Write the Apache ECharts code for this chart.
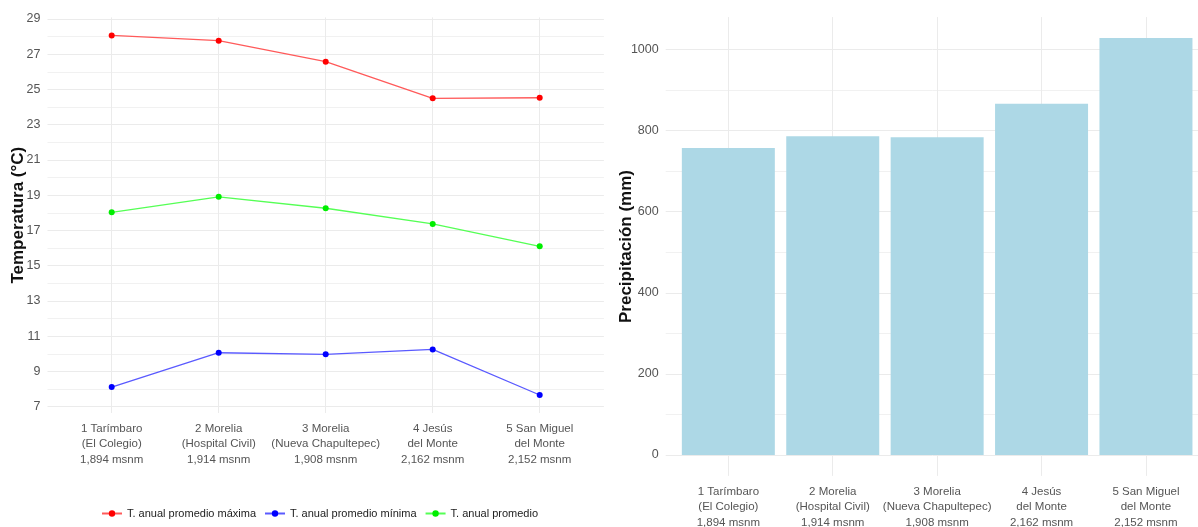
<!DOCTYPE html>
<html>
<head>
<meta charset="utf-8">
<script src="https://cdn.jsdelivr.net/npm/echarts@6/dist/echarts.min.js"></script>
<style>
html,body{margin:0;padding:0;background:#fff;}
#c{width:1198px;height:527px;}
</style>
</head>
<body>
<div id="c"></div>
<script>
// ---- data ----
var stations = [
  '1 Tarímbaro\n(El Colegio)\n1,894 msnm',
  '2 Morelia\n(Hospital Civil)\n1,914 msnm',
  '3 Morelia\n(Nueva Chapultepec)\n1,908 msnm',
  '4 Jesús\ndel Monte\n2,162 msnm',
  '5 San Miguel\ndel Monte\n2,152 msnm'
];
var tMax = [28.07, 27.77, 26.58, 24.50, 24.53];
var tMin = [8.11, 10.06, 9.97, 10.25, 7.66];
var tMean = [18.03, 18.91, 18.26, 17.37, 16.10];
var precip = [757, 786, 783, 866, 1028];
var seriesNames = ['T. anual promedio máxima', 'T. anual promedio mínima', 'T. anual promedio'];

// ---- helpers ----
function pts(arr){ return arr.map(function(v,i){ return [i+1, v]; }); }
var allT = tMax.concat(tMin, tMean);
var tLo = Math.min.apply(null, allT), tHi = Math.max.apply(null, allT);
var tPad = 0.05*(tHi - tLo);
var pHi = Math.max.apply(null, precip), pPad = 0.05*pHi;

var tickFont = "'Liberation Sans',Arial,sans-serif";
var gridColor = '#ebebeb';
var minorColor = '#f1f1f1';
function catLabel(v){
  if (Math.abs(v - Math.round(v)) < 1e-6 && stations[Math.round(v)-1]) return stations[Math.round(v)-1];
  return '';
}
function plain(v){ return String(v); }
function xLabelStyle(margin){
  return {color:'#555', fontFamily:tickFont, fontSize:11.5, lineHeight:15.5, margin:margin,
    formatter:catLabel, showMinLabel:false, showMaxLabel:false, hideOverlap:false};
}
var titleStyle = {color:'#111', fontFamily:"'Liberation Sans',Arial,sans-serif", fontWeight:'bold', fontSize:17};

var chart = echarts.init(document.getElementById('c'), null, {renderer:'canvas'});
var option = {
  animation:false,
  backgroundColor:'#fff',
  grid:[
    {left:47.5, top:17.4, width:556.4, bottom:114, outerBoundsMode:'none', containLabel:false},
    {left:47.5, top:19, width:556.4, bottom:120.3, outerBoundsMode:'none', containLabel:false},
    {left:665.7, top:17.1, width:542.9, bottom:51.1, outerBoundsMode:'none', containLabel:false}
  ],
  legend:{
    left:96, top:503, itemWidth:20, itemHeight:8, itemGap:8,
    textStyle:{color:'#222', fontFamily:tickFont, fontSize:11},
    data:seriesNames
  },
  xAxis:[
    {gridIndex:0, type:'value', min:0.4, max:5.6, splitNumber:5,
     axisLine:{show:false}, axisTick:{show:false},
     axisLabel:xLabelStyle(8),
     splitLine:{show:true, showMinLine:false, showMaxLine:false, lineStyle:{color:gridColor, width:1}}},
    {gridIndex:1, type:'value', min:0.4, max:5.6, show:false},
    {gridIndex:2, type:'value', min:0.4, max:5.6, splitNumber:5,
     axisLine:{show:false}, axisTick:{show:false},
     axisLabel:xLabelStyle(8),
     splitLine:{show:true, showMinLine:false, showMaxLine:false, lineStyle:{color:gridColor, width:1}}}
  ],
  yAxis:[
    {gridIndex:0, type:'value', min:tLo - tPad, max:tHi + tPad,
     axisLine:{show:false}, axisTick:{show:false}, axisLabel:{show:false}, splitLine:{show:false},
     name:'Temperatura (°C)', nameLocation:'middle', nameRotate:90, nameGap:21, nameMoveOverlap:false,
     nameTextStyle:titleStyle},
    {gridIndex:1, type:'value', min:7, max:29, interval:2,
     axisLine:{show:false}, axisTick:{show:false},
     axisLabel:{color:'#555', fontFamily:tickFont, fontSize:12.5, margin:7, formatter:plain},
     splitLine:{show:true, lineStyle:{color:gridColor, width:1}},
     minorTick:{show:false, splitNumber:2},
     minorSplitLine:{show:true, lineStyle:{color:minorColor, width:1}}},
    {gridIndex:2, type:'value', min:-pPad, max:pHi + pPad, splitNumber:5,
     axisLine:{show:false}, axisTick:{show:false},
     axisLabel:{color:'#555', fontFamily:tickFont, fontSize:12.5, margin:7, formatter:plain,
       showMinLabel:false, showMaxLabel:false},
     splitLine:{show:true, showMinLine:false, showMaxLine:false, lineStyle:{color:gridColor, width:1}},
     minorTick:{show:false, splitNumber:2},
     minorSplitLine:{show:true, lineStyle:{color:minorColor, width:1}},
     name:'Precipitación (mm)', nameLocation:'middle', nameRotate:90, nameGap:31, nameMoveOverlap:false,
     nameTextStyle:titleStyle}
  ],
  series:[
    {name:seriesNames[0], type:'line', xAxisIndex:0, yAxisIndex:0, data:pts(tMax),
     symbol:'circle', symbolSize:6, itemStyle:{color:'#ff0000'},
     lineStyle:{color:'#ff5a5a', width:1.3}},
    {name:seriesNames[1], type:'line', xAxisIndex:0, yAxisIndex:0, data:pts(tMin),
     symbol:'circle', symbolSize:6, itemStyle:{color:'#0000ff'},
     lineStyle:{color:'#5a5aff', width:1.3}},
    {name:seriesNames[2], type:'line', xAxisIndex:0, yAxisIndex:0, data:pts(tMean),
     symbol:'circle', symbolSize:6, itemStyle:{color:'#00ee00'},
     lineStyle:{color:'#55ff55', width:1.3}},
    {name:'Precipitación', type:'bar', xAxisIndex:2, yAxisIndex:2, data:pts(precip),
     barWidth:93, itemStyle:{color:'#add8e6'}}
  ]
};
chart.setOption(option);
</script>
</body>
</html>
